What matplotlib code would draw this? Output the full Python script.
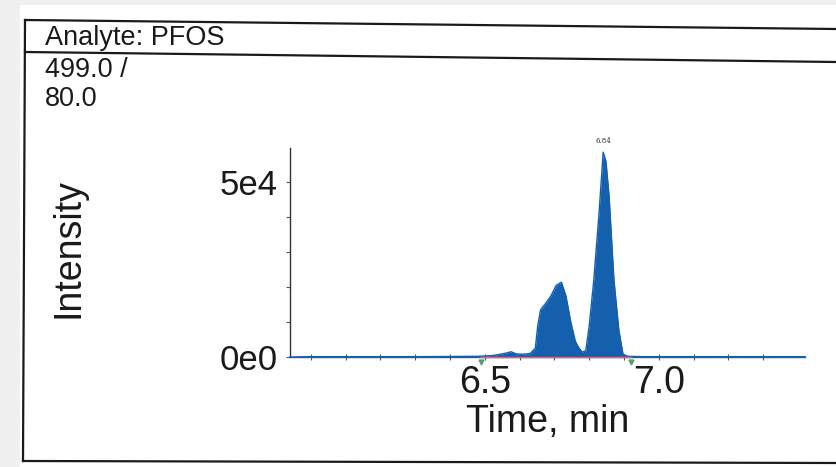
import matplotlib
matplotlib.use("Agg")
import matplotlib.pyplot as plt
from matplotlib.lines import Line2D
from matplotlib.patches import Rectangle

plt.rcParams['font.family'] = ['Liberation Sans', 'DejaVu Sans']

# ---- data ----
times = [5.94, 6.00, 6.10, 6.20, 6.30, 6.40, 6.48, 6.52, 6.54, 6.56, 6.575,
         6.59, 6.61, 6.63, 6.645, 6.652, 6.66, 6.675, 6.69, 6.705, 6.72,
         6.733, 6.747, 6.76, 6.77, 6.78, 6.79, 6.80, 6.813, 6.828, 6.84,
         6.848, 6.857, 6.871, 6.885, 6.897, 6.91, 6.95, 7.00, 7.10, 7.20,
         7.30, 7.42]
intensity = [0, 100, 100, 100, 100, 150, 200, 400, 700, 1100, 1500,
             900, 800, 1000, 2500, 9000, 13500, 15400, 17500, 20500, 21400,
             17500, 10000, 4500, 2600, 1400, 1800, 9000, 22000, 41000, 58600,
             56000, 46000, 22000, 7700, 800, 200, 100, 100, 100, 100,
             100, 100]
peak_rt = 6.84
peak_label = "6.84"
int_start, int_end = 6.49, 6.92
xtick_vals = [6.5, 7.0]
xtick_labels = ["6.5", "7.0"]
ytick_vals = [0, 50000]
ytick_labels = ["0e0", "5e4"]
header = "Analyte: PFOS"
transition = ["499.0 /", "80.0"]

W, H = 836, 467
fig = plt.figure(figsize=(W / 100, H / 100), dpi=100)
fig.patch.set_facecolor('#f0f0f0')

def fx(x):
    return x / W

def fy(y):
    return 1 - y / H

# white paper area
fig.add_artist(Rectangle((fx(20), 0), 1 - fx(20), fy(5), transform=fig.transFigure,
                         facecolor='white', edgecolor='none', zorder=0))
# frame lines (slightly tilted like the scan)
for (x0, y0, x1, y1) in [(25, 20, 836, 29), (25, 52, 836, 62), (25, 20, 23, 461), (23, 461, 836, 463)]:
    fig.add_artist(Line2D([fx(x0), fx(x1)], [fy(y0), fy(y1)], transform=fig.transFigure,
                          color='#1a1a1a', lw=1.6, zorder=1))

fig.text(fx(45), fy(45), header, fontsize=19.5, color='#1a1a1a', va='baseline', ha='left')
fig.text(fx(45), fy(77), transition[0], fontsize=19.5, color='#1a1a1a', va='baseline', ha='left')
fig.text(fx(45), fy(106), transition[1], fontsize=19.5, color='#1a1a1a', va='baseline', ha='left')

ax = fig.add_axes([fx(290), fy(357), fx(805) - fx(290), fy(148) - fy(357)])
ax.set_facecolor('none')
ax.set_xlim(5.94, 7.42)
ax.set_ylim(0, 59800)

blue = '#1560ad'
ax.fill_between(times, 0, intensity, color=blue, lw=0, zorder=2)
ax.plot(times, intensity, color=blue, lw=1.0, zorder=3, clip_on=False)
ax.plot([int_start, int_end], [0, 0], color='#e06080', lw=1.0, zorder=4, clip_on=False)
ax.plot([int_start, int_end], [-1400, -1400], linestyle='none', marker='v', markersize=3.5,
        color='#50a070', clip_on=False, zorder=5)
ax.annotate(peak_label, (peak_rt, max(intensity)), xytext=(0, 5), textcoords='offset points',
            ha='center', va='bottom', fontsize=5, color='#333333', family=['DejaVu Serif'])

for s in ['top', 'right']:
    ax.spines[s].set_visible(False)
ax.spines['left'].set_color('#333333')
ax.spines['left'].set_linewidth(1.0)
ax.spines['bottom'].set_color('#2a5a9a')
ax.spines['bottom'].set_linewidth(1.0)

ax.set_xticks(xtick_vals)
ax.set_xticklabels(xtick_labels, fontsize=27, color='#1a1a1a')
ax.set_xticks([5.9 + 0.1 * i for i in range(1, 15)], minor=True)
ax.set_yticks(ytick_vals)
ax.set_yticklabels(ytick_labels, fontsize=25, color='#1a1a1a')
ax.set_yticks([10000 * i for i in range(1, 6)], minor=True)
ax.tick_params(axis='x', which='both', direction='inout', length=4, width=0.8, color='#555555', pad=4)
ax.tick_params(axis='y', which='both', direction='out', length=3, width=0.8, color='#555555', pad=6)

ax.set_xlabel("Time, min", fontsize=27, color='#1a1a1a', labelpad=2)
fig.text(fx(68), fy(248), "Intensity", rotation=90, fontsize=27, color='#1a1a1a',
         ha='center', va='center')

fig.savefig("out.png", dpi=100, facecolor=fig.get_facecolor())
